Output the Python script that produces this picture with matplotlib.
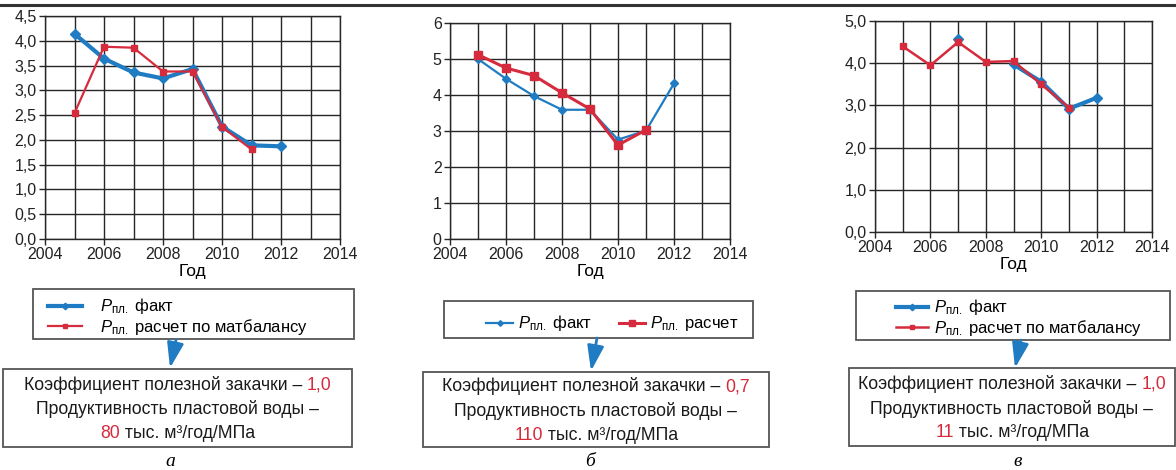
import numpy as np
import matplotlib
matplotlib.use('Agg')
import matplotlib.pyplot as plt
from matplotlib.offsetbox import TextArea, HPacker, VPacker, AnnotationBbox

plt.rcParams['font.family'] = ['Liberation Sans', 'DejaVu Sans']
plt.rcParams['mathtext.fontset'] = 'custom'
plt.rcParams['mathtext.rm'] = 'Liberation Sans'
plt.rcParams['mathtext.it'] = 'Liberation Sans:italic'

W, H = 1176, 470
BLUE = '#1f7cc3'
RED = '#d52b3d'
GRID = '#262626'

nan = np.nan
years = [2005, 2006, 2007, 2008, 2009, 2010, 2011, 2012]

# пластовое давление, МПа
a_fact = [4.14, 3.64, 3.36, 3.24, 3.43, 2.27, 1.89, 1.87]
a_calc = [2.54, 3.88, 3.86, 3.38, 3.38, 2.26, 1.81, nan]
b_fact = [5.00, 4.45, 3.97, 3.59, 3.59, 2.76, 3.01, 4.32]
b_calc = [5.12, 4.75, 4.54, 4.06, 3.61, 2.61, 3.03, nan]
c_fact = [nan, nan, 4.57, nan, 3.97, 3.56, 2.92, 3.18]
c_calc = [4.40, 3.95, 4.50, 4.03, 4.05, 3.50, 2.95, nan]

x_ticks = [2004, 2006, 2008, 2010, 2012, 2014]
a_yticks = [0, 0.5, 1.0, 1.5, 2.0, 2.5, 3.0, 3.5, 4.0, 4.5]
a_ylabels = ['0,0', '0,5', '1,0', '1,5', '2,0', '2,5', '3,0', '3,5', '4,0', '4,5']
b_yticks = [0, 1, 2, 3, 4, 5, 6]
b_ylabels = ['0', '1', '2', '3', '4', '5', '6']
c_yticks = [0, 1, 2, 3, 4, 5]
c_ylabels = ['0,0', '1,0', '2,0', '3,0', '4,0', '5,0']

lbl_fact = r'$P_{\mathregular{пл.}}$ факт'
lbl_mb = r'$P_{\mathregular{пл.}}$ расчет по матбалансу'
lbl_calc = r'$P_{\mathregular{пл.}}$ расчет'

koef = ['1,0', '0,7', '1,0']
prod = ['80', '110', '11']
letters = ['а', 'б', 'в']

fig = plt.figure(figsize=(W / 100, H / 100), dpi=100)

# служебные оси в пикселях: рамки, стрелки, подписи
ov = fig.add_axes([0, 0, 1, 1])
ov.set_xlim(0, W)
ov.set_ylim(H, 0)
ov.axis('off')
ov.plot([0, W], [5, 5], color='#333333', lw=2.2)


def px_axes(l, t, r, b):
    return fig.add_axes([l / W, 1 - b / H, (r - l) / W, (b - t) / H])


def setup(ax, yticks, ylabels):
    ax.set_xlim(2004, 2014)
    ax.set_ylim(yticks[0], yticks[-1])
    ax.set_xticks(x_ticks)
    ax.set_xticks(range(2004, 2015), minor=True)
    ax.set_yticks(yticks)
    ax.set_yticklabels(ylabels)
    ax.grid(True, which='both', color=GRID, lw=1.0)
    ax.tick_params(which='both', direction='out', length=4, width=1, color=GRID,
                   labelsize=11.5, pad=2, labelcolor='#222222')
    ax.tick_params(axis='x', which='minor', length=0)
    for s in ax.spines.values():
        s.set_color(GRID)
        s.set_linewidth(1.0)
    ax.set_xlabel('Год', fontsize=12.5, labelpad=1)


leg_kw = dict(bbox_transform=fig.transFigure, frameon=False, fontsize=12, borderpad=0,
              loc='upper left')

# --- а ---
ax1 = px_axes(45, 16, 340, 239)
setup(ax1, a_yticks, a_ylabels)
h1, = ax1.plot(years, a_fact, color=BLUE, lw=3.0, marker='D', ms=5.5, label=lbl_fact, zorder=3)
h2, = ax1.plot(years, a_calc, color=RED, lw=1.6, marker='s', ms=4.3, label=lbl_mb, zorder=4)
ax1.legend(handles=[h1, h2], bbox_to_anchor=(40 / W, 1 - 288 / H), handlelength=2.0,
           handletextpad=1.1, labelspacing=0.05, markerscale=0.6, **leg_kw)

# --- б ---
ax2 = px_axes(450, 23, 730, 239)
setup(ax2, b_yticks, b_ylabels)
h3, = ax2.plot(years, b_fact, color=BLUE, lw=1.6, marker='D', ms=3.6, label=lbl_fact, zorder=3)
h4, = ax2.plot(years, b_calc, color=RED, lw=2.2, marker='s', ms=6.0, label=lbl_calc, zorder=4)
ax2.legend(handles=[h3, h4], bbox_to_anchor=(478 / W, 1 - 305 / H), ncol=2,
           handlelength=1.6, handletextpad=0.3, columnspacing=1.6, markerscale=0.8, **leg_kw)

# --- в ---
ax3 = px_axes(875, 21, 1152, 232)
setup(ax3, c_yticks, c_ylabels)
h5, = ax3.plot(years, c_fact, color=BLUE, lw=3.0, marker='D', ms=5.5, label=lbl_fact, zorder=3)
h6, = ax3.plot(years, c_calc, color=RED, lw=1.8, marker='s', ms=4.3, label=lbl_mb, zorder=4)
ax3.legend(handles=[h5, h6], bbox_to_anchor=(888 / W, 1 - 289 / H), handlelength=1.9,
           handletextpad=0.35, labelspacing=0.05, markerscale=0.6, **leg_kw)

# рамки легенд и блоков с параметрами
legend_frames = [(33, 289, 354, 339), (444, 301, 753, 338), (856, 291, 1170, 340)]
info_frames = [(3, 369, 352, 447), (423, 372, 769, 447), (849, 368, 1175, 446)]
arrows = [((176, 340), (170, 368)), ((597, 338), (591, 371)), ((1021, 340), (1015, 368))]
letter_x = [170, 590, 1018]

for (l, t, r, b) in legend_frames + info_frames:
    ov.add_patch(plt.Rectangle((l, t), r - l, b - t, fill=False, ec='#555555', lw=1.3))

for (p0, p1) in arrows:
    ov.annotate('', xy=p1, xytext=p0,
                arrowprops=dict(arrowstyle='-|>,head_length=0.85,head_width=0.28',
                                color=BLUE, lw=2.0, mutation_scale=18, shrinkA=0, shrinkB=0))

tp = dict(fontsize=12.7, color='#1a1a1a')
rp = dict(fontsize=12.7, color=RED)
for i, (l, t, r, b) in enumerate(info_frames):
    row1 = HPacker(children=[TextArea('Коэффициент полезной закачки – ', textprops=tp),
                             TextArea(koef[i], textprops=rp)], align='baseline', pad=0, sep=0)
    row2 = TextArea('Продуктивность пластовой воды –', textprops=tp)
    row3 = HPacker(children=[TextArea(prod[i], textprops=rp),
                             TextArea(' тыс. м³/год/МПа', textprops=tp)], align='baseline', pad=0, sep=0)
    block = VPacker(children=[row1, row2, row3], align='center', pad=0, sep=5)
    ov.add_artist(AnnotationBbox(block, ((l + r) / 2, (t + b) / 2 + 1), frameon=False,
                                 box_alignment=(0.5, 0.5), pad=0))
    ov.text(letter_x[i], 462, letters[i], fontsize=14, style='italic',
            family='Liberation Serif', ha='center', va='center')

fig.savefig('out.png', dpi=100)
